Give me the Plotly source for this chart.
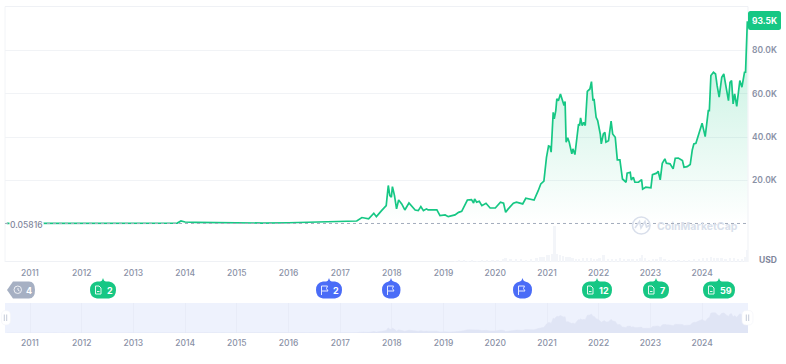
import plotly.graph_objects as go

# ---------- data ----------
price_year = [2010.55, 2011.0, 2012.0, 2013.0, 2013.2, 2013.85, 2013.92, 2014.0, 2014.2, 2014.4, 2014.5, 2014.75, 2015.0, 2015.5, 2016.0, 2016.5, 2016.9,
    2017.0, 2017.19, 2017.32, 2017.42, 2017.55, 2017.65, 2017.7, 2017.8, 2017.89, 2017.93, 2017.96, 2017.99, 2018.01, 2018.05, 2018.09, 2018.13, 2018.19, 2018.25, 2018.33, 2018.45, 2018.51, 2018.56, 2018.61, 2018.67, 2018.7, 2018.87, 2018.93,
    2019.03, 2019.09, 2019.22, 2019.29, 2019.35, 2019.39, 2019.46, 2019.54, 2019.58, 2019.6, 2019.64, 2019.69, 2019.74, 2019.82, 2019.9,
    2020.0, 2020.1, 2020.16, 2020.2, 2020.25, 2020.35, 2020.41, 2020.53, 2020.59, 2020.67, 2020.75, 2020.83, 2020.88, 2020.94, 2020.99,
    2021.03, 2021.06, 2021.08, 2021.11, 2021.12, 2021.14, 2021.17, 2021.19, 2021.22, 2021.26, 2021.30, 2021.33, 2021.35, 2021.37, 2021.40, 2021.43, 2021.48, 2021.50, 2021.54, 2021.57, 2021.61, 2021.63, 2021.65, 2021.68, 2021.71, 2021.74, 2021.78, 2021.83, 2021.86, 2021.89, 2021.91, 2021.95, 2021.98,
    2022.03, 2022.05, 2022.09, 2022.12, 2022.14, 2022.19, 2022.24, 2022.27, 2022.32, 2022.36, 2022.41, 2022.46, 2022.53, 2022.55, 2022.61, 2022.63, 2022.67, 2022.70, 2022.77, 2022.83, 2022.85, 2022.91,
    2023.01, 2023.04, 2023.12, 2023.15, 2023.19, 2023.23, 2023.28, 2023.31, 2023.38, 2023.44, 2023.48, 2023.54, 2023.62, 2023.65, 2023.71, 2023.77, 2023.81, 2023.84, 2023.88, 2023.93,
    2024.00, 2024.06, 2024.12, 2024.14, 2024.17, 2024.22, 2024.26, 2024.29, 2024.33, 2024.38, 2024.42, 2024.47, 2024.51, 2024.54, 2024.57, 2024.60, 2024.63, 2024.67, 2024.71, 2024.73, 2024.77, 2024.82, 2024.84, 2024.86, 2024.875]
price_k = [0.06, 0.06, 0.06, 0.07, 0.1, 0.25, 1.2, 0.75, 0.6, 0.55, 0.6, 0.35, 0.3, 0.25, 0.4, 0.6, 0.75,
    0.9, 1.0, 1.2, 2.8, 2.2, 4.8, 3.2, 6.0, 8.3, 17.6, 12.9, 12.2, 17.1, 12.9, 6.8, 10.9, 9.1, 6.3, 9.5, 6.3, 6.0, 7.9, 6.0, 6.8, 6.3, 6.3, 3.7,
    4.0, 3.2, 4.0, 5.2, 5.7, 7.9, 10.9, 11.1, 9.5, 11.4, 9.9, 10.3, 8.3, 9.4, 7.2,
    7.2, 9.9, 9.4, 5.2, 6.8, 9.4, 9.9, 9.1, 11.7, 11.4, 10.9, 15.2, 18.3, 19.6, 30.6,
    35.9, 35.6, 33.0, 46.0, 51.4, 48.4, 52.2, 57.6, 56.8, 59.9, 56.8, 54.5, 56.4, 37.6, 39.6, 37.6, 32.2, 34.5, 31.9, 38.3, 46.0, 45.3, 48.8, 45.3, 46.8, 45.3, 61.1, 62.2, 65.6, 56.8, 57.6, 49.1, 47.6,
    41.4, 36.8, 41.4, 42.2, 37.6, 38.3, 47.3, 41.4, 39.9, 29.4, 29.4, 20.6, 19.1, 23.3, 23.7, 20.2, 21.4, 19.1, 19.1, 20.3, 15.9, 16.8,
    16.5, 22.6, 23.3, 24.2, 20.2, 27.9, 29.9, 27.9, 27.6, 25.3, 30.2, 30.3, 29.1, 26.0, 26.3, 27.3, 34.0, 36.8, 37.1, 40.7,
    46.4, 40.2, 52.2, 52.2, 68.4, 69.9, 69.1, 63.8, 58.4, 67.6, 69.1, 62.2, 56.8, 65.3, 66.1, 55.3, 59.9, 54.1, 63.8, 66.1, 63.0, 69.9, 69.9, 89.2, 93.5]

volume_year = [2019.22, 2019.3, 2019.4, 2019.48, 2019.55, 2019.65, 2019.75, 2019.85, 2019.95, 2020.05, 2020.15, 2020.2, 2020.3, 2020.4, 2020.5, 2020.6, 2020.7, 2020.8, 2020.88, 2020.94,
    2021.0, 2021.05, 2021.1, 2021.15, 2021.2, 2021.26, 2021.32, 2021.38, 2021.44, 2021.5, 2021.56, 2021.62, 2021.7, 2021.78, 2021.86, 2021.92, 2021.97, 2022.02, 2022.1, 2022.18, 2022.26, 2022.34, 2022.42, 2022.5, 2022.58, 2022.66, 2022.74, 2022.8, 2022.84, 2022.9, 2022.98,
    2023.05, 2023.12, 2023.2, 2023.28, 2023.36, 2023.45, 2023.55, 2023.65, 2023.75, 2023.85, 2023.95, 2024.02, 2024.1, 2024.18, 2024.24, 2024.3, 2024.38, 2024.46, 2024.54, 2024.62, 2024.7, 2024.78, 2024.84, 2024.87]
volume_b = [8, 12, 14, 10, 18, 10, 12, 14, 18, 25, 30, 45, 32, 35, 28, 25, 35, 40, 50, 55,
    75, 70, 85, 360, 80, 75, 60, 55, 50, 40, 35, 32, 36, 42, 38, 32, 30, 40, 70, 30, 28, 32, 38, 34, 30, 28, 32, 42, 70, 40, 25,
    28, 32, 48, 30, 25, 24, 18, 20, 22, 30, 35, 38, 45, 50, 42, 40, 38, 30, 38, 36, 30, 35, 55, 120]

year_ticks = list(range(2011, 2025))
price_ticks_k = [20, 40, 60, 80]
price_tick_text = ["20.0K", "40.0K", "60.0K", "80.0K"]
last_price_text = "93.5K"
first_price_text = "0.05816"
volume_unit = "USD"
brand = "CoinMarketCap"
# event badges: kind and count text
event_kind = ["history", "doc", "flag", "flag", "flag", "doc", "doc", "doc"]
event_count = ["4", "2", "2", "", "", "12", "7", "59"]

# ---------- style ----------
W, H = 786, 364
GREEN, BLUE, GREY = "#16c784", "#4a6cf7", "#a6b0c3"
FONT = "Inter, 'Open Sans', sans-serif"
TXT = "#8a91a6"
X0, X1 = 5, 748
PY0, PY1 = 7, 262
ZERO_PX = 223.6

def px(x): return x / W
def py(y): return 1 - y / H
def year_at(x): return 2011 + (x - 30) / 51.7

def path(points):
    """Turn pixel-based path tokens into a paper-coordinates SVG path."""
    out = []
    for cmd, *xy in points:
        coords = [f"{px(xy[i])},{py(xy[i+1])}" for i in range(0, len(xy), 2)]
        out.append(cmd + " ".join(coords))
    return " ".join(out)

def rounded(x0, y0, x1, y1, r):
    return path([("M", x0 + r, y0), ("L", x1 - r, y0), ("Q", x1, y0, x1, y0 + r), ("L", x1, y1 - r),
                 ("Q", x1, y1, x1 - r, y1), ("L", x0 + r, y1), ("Q", x0, y1, x0, y1 - r), ("L", x0, y0 + r),
                 ("Q", x0, y0, x0 + r, y0)]) + " Z"

fig = go.Figure()

# volume bars (lower overlay)
fig.add_trace(go.Bar(x=volume_year, y=volume_b, xaxis="x", yaxis="y", width=0.035,
                     marker=dict(color="#f3f5f9", line_width=0), hoverinfo="skip", showlegend=False))
# price
fig.add_trace(go.Scatter(x=price_year, y=price_k, xaxis="x", yaxis="y2", mode="lines",
                         line=dict(color=GREEN, width=1.7), fill="tozeroy",
                         fillgradient=dict(type="vertical", start=0, stop=93.5,
                                           colorscale=[[0, "rgba(22,199,132,0.0)"], [1, "rgba(22,199,132,0.27)"]]),
                         showlegend=False))
# navigator
nav_year = [y for y in price_year if y <= 2024.84]
nav_k = price_k[:len(nav_year)]
nav_year = nav_year + [year_at(X1)]
nav_k = nav_k + [nav_k[-1]]
fig.add_trace(go.Scatter(x=nav_year, y=nav_k, xaxis="x2", yaxis="y3", mode="lines",
                         line=dict(color="#e0e5f5", width=0.5), fill="tozeroy", fillcolor="#e0e5f5",
                         showlegend=False))

shapes = []
def line(x0, y0, x1, y1, color, width=1, dash="solid"):
    shapes.append(dict(type="line", xref="paper", yref="paper", x0=px(x0), y0=py(y0), x1=px(x1), y1=py(y1),
                       line=dict(color=color, width=width, dash=dash), layer="below"))

line(X0, 6.5, X1, 6.5, "#eff1f5")
line(X0, PY1 - 0.5, X1, PY1 - 0.5, "#eff1f5")
line(X0, 6.5, X0, PY1, "#f2f4f7")
line(X1, 6.5, X1, PY1, "#eff1f5")
# nav background
shapes.append(dict(type="rect", xref="paper", yref="paper", x0=px(X0), x1=px(X1), y0=py(333), y1=py(303),
                   fillcolor="#eef2fd", line_width=0, layer="below"))
# dotted baseline at the first price
shapes.append(dict(type="line", xref="paper", yref="y2", x0=px(X0), x1=px(X1), y0=price_k[0], y1=price_k[0],
                   line=dict(color="#a3acbd", width=1, dash="dot"), layer="above"))
# current price box
shapes.append(dict(type="path", path=rounded(748, 11, 781, 30, 2.5), xref="paper", yref="paper", fillcolor=GREEN, line_width=0))
# handles
for a, b in ((1.5, 10.5), (742, 753)):
    shapes.append(dict(type="path", path=rounded(a, 310.5, b, 325, 4.5), xref="paper", yref="paper",
                       fillcolor="#ffffff", line=dict(color="#f1f3f9", width=0.6)))
    c = (a + b) / 2 + (0 if a > 5 else -0.5)
    for d in (-1.2, 1.2):
        shapes.append(dict(type="line", xref="paper", yref="paper", x0=px(c + d), x1=px(c + d), y0=py(314.5), y1=py(321),
                           line=dict(color="#b4bccd", width=0.8)))

# watermark logo
wm = "#d9dfeb"
shapes.append(dict(type="circle", xref="paper", yref="paper", x0=px(632.5), x1=px(650), y0=py(234), y1=py(217),
                   line=dict(color=wm, width=1.6)))
shapes.append(dict(type="path", xref="paper", yref="paper",
                   path=path([("M", 635, 228), ("L", 639.5, 221.5), ("L", 641, 228), ("L", 645, 221.5), ("L", 646.5, 227), ("L", 650, 225)]),
                   line=dict(color=wm, width=1.6)))

annotations = []
def text(x, y, s, size, color, anchor="center", weight=500, bg=None):
    a = dict(x=px(x), y=py(y), xref="paper", yref="paper", text=s, showarrow=False, xanchor=anchor, yanchor="middle",
             font=dict(family=FONT, size=size, color=color, weight=weight), borderpad=0)
    if bg:
        a["bgcolor"] = bg
    annotations.append(a)

text(8.5, 225, first_price_text, 8.5, "#7f869b", "left", 500, "#ffffff")
text(764.5, 20.5, last_price_text, 8.5, "#ffffff", "center", 700)
text(758, 260, volume_unit, 8.5, "#7f869b", "left", 700)
text(656, 226, brand, 10.5, wm, "left", 700)

# event badges
def badge(kind, count, x0, x1, tip):
    color = {"history": GREY, "doc": GREEN, "flag": BLUE}[kind]
    y0, y1, ym = 281.5, 298.5, 290
    if kind == "history":
        p = path([("M", 7, ym), ("L", 13, y0), ("L", x1 - 6, y0), ("Q", x1, y0, x1, ym), ("Q", x1, y1, x1 - 6, y1),
                  ("L", 13, y1)]) + " Z"
    else:
        r = 7
        p = path([("M", tip, 278), ("Q", tip + 1, y0, tip + 3, y0), ("L", x1 - r, y0), ("Q", x1, y0 + 1, x1, ym),
                  ("Q", x1, y1 - 1, x1 - r, y1), ("L", x0 + r, y1), ("Q", x0, y1 - 1, x0, ym), ("Q", x0, y0 + 1, x0 + r, y0),
                  ("L", tip - 3, y0), ("Q", tip - 1, y0, tip, 278)]) + " Z"
    shapes.append(dict(type="path", xref="paper", yref="paper", path=p, fillcolor=color, line_width=0))
    icon = dict(color="#e3f7ef" if kind == "doc" else "#e4e9ff" if kind == "flag" else "#eef0f5", width=1)
    if kind == "doc":
        ix = x0 + 5.5
        p2 = path([("M", ix, 286), ("L", ix + 3.5, 286), ("L", ix + 5.5, 288), ("L", ix + 5.5, 294), ("L", ix, 294)]) + " Z"
        shapes.append(dict(type="path", xref="paper", yref="paper", path=p2, line=icon))
        shapes.append(dict(type="line", xref="paper", yref="paper", x0=px(ix + 1.5), x1=px(ix + 4), y0=py(291.5), y1=py(291.5), line=icon))
    elif kind == "flag":
        ix = x0 + 5.5
        p2 = path([("M", ix, 295), ("L", ix, 286), ("L", ix + 6, 286), ("L", ix + 5, 288.5), ("L", ix + 6.5, 291), ("L", ix, 291)])
        shapes.append(dict(type="path", xref="paper", yref="paper", path=p2, line=icon))
    else:
        shapes.append(dict(type="circle", xref="paper", yref="paper", x0=px(14), x1=px(21.5), y0=py(293.5), y1=py(286), line=icon))
        shapes.append(dict(type="path", xref="paper", yref="paper", path=path([("M", 18, 288), ("L", 18, 290), ("L", 19.5, 291)]), line=icon))
    if count:
        if kind == "history":
            text(29, 290, count, 9, "#ffffff", "center", 700)
        else:
            text(x0 + 16, 290, count, 9, "#ffffff", "left", 700)

badge_px = [(7, 35, 0), (90, 116, 103), (316, 342, 329), (382, 400.5, 391), (513, 532, 522.5), (582, 612, 597), (643, 669, 656), (703, 735, 719)]
for k, c, (a, b, t) in zip(event_kind, event_count, badge_px):
    badge(k, c, a, b, t)

x_range = [year_at(X0), year_at(X1)]
tickf = dict(family=FONT, size=8.5, color=TXT, weight=500)
fig.update_layout(
    width=W, height=H, margin=dict(l=0, r=0, t=0, b=0), autosize=False,
    paper_bgcolor="#ffffff", plot_bgcolor="rgba(0,0,0,0)", showlegend=False, hovermode=False, bargap=0,
    shapes=shapes, annotations=annotations,
    xaxis=dict(domain=[px(X0), px(X1)], range=x_range, tickmode="array", tickvals=year_ticks, ticktext=[str(y) for y in year_ticks],
               showgrid=False, zeroline=False, showline=False, ticks="", tickfont=tickf, anchor="y", ticklabelstandoff=4, fixedrange=True),
    yaxis=dict(domain=[py(PY1), py(222)], range=[0, 40 * 10], visible=False, fixedrange=True),
    yaxis2=dict(domain=[py(PY1), py(PY0)], range=[(ZERO_PX - PY1) / 43.3 * 20, (ZERO_PX - PY0) / 43.3 * 20], side="right", anchor="x",
                tickmode="array", tickvals=price_ticks_k, ticktext=price_tick_text, showgrid=True, gridcolor="#f1f3f6", gridwidth=1,
                zeroline=False, showline=False, ticks="", tickfont=dict(family=FONT, size=8.5, color=TXT, weight=600), ticklabelstandoff=3, fixedrange=True),
    xaxis2=dict(domain=[px(X0), px(X1)], range=x_range, tickmode="array", tickvals=year_ticks, ticktext=[str(y) for y in year_ticks],
                showgrid=True, gridcolor="#e8ecf8", gridwidth=1, zeroline=False, showline=False, ticks="", tickfont=tickf, anchor="y3", ticklabelstandoff=3, fixedrange=True),
    yaxis3=dict(domain=[py(333), py(303)], range=[0, 103], visible=False, anchor="x2", fixedrange=True),
)
fig.write_html("out.html", config=dict(displayModeBar=False), post_script="document.body.style.margin='0';")
